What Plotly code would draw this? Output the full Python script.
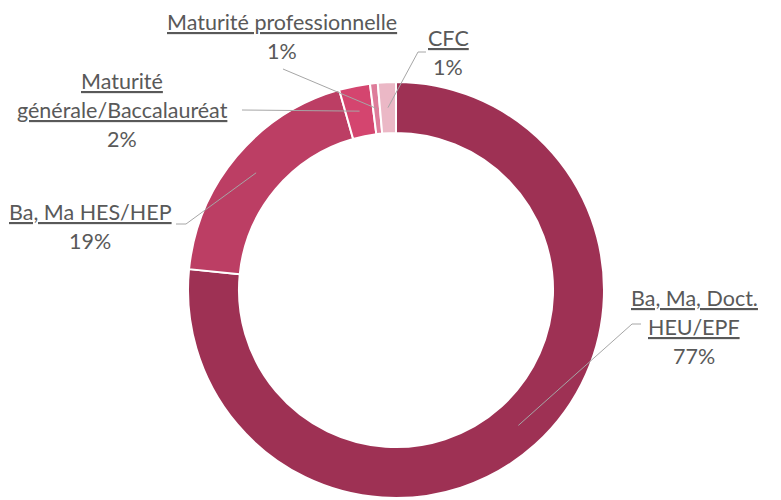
import math
import plotly.graph_objects as go

labels = ["Ba, Ma, Doct. HEU/EPF", "Ba, Ma HES/HEP", "Maturité générale/Baccalauréat",
          "Maturité professionnelle", "CFC"]
label_lines = [["Ba, Ma, Doct.", "HEU/EPF"], ["Ba, Ma HES/HEP"], ["Maturité", "générale/Baccalauréat"],
               ["Maturité professionnelle"], ["CFC"]]
values = [76.6, 19.0, 2.4, 0.6, 1.4]
colors = ["#9E3154", "#BC3E64", "#D4456F", "#DE7C9A", "#EBB8C6"]

W, H = 781, 500
OFF = 8  # page body margin
cx, cy, R, hole = 396, 290, 208, 0.755

def px(x, y):
    return (x - OFF) / W, 1 - (y - OFF) / H

x0, y1 = px(cx - R, cy - R)
x1, y0 = px(cx + R, cy + R)
fig = go.Figure(go.Pie(
    labels=labels, values=values, sort=False, direction="clockwise", rotation=0,
    hole=hole, textinfo="none", hoverinfo="label+percent", showlegend=False,
    marker=dict(colors=colors, line=dict(color="white", width=2)),
    domain=dict(x=[x0, x1], y=[y0, y1]),
))

# label text centre (first line) and the leader start point, in page pixels
label_pos = [(694, 298), (90, 212), (122, 81), (282, 22), (448, 38)]
leader_start = [[(641, 324), (632, 324)], [(176, 224), (186, 224)], [(242, 110)],
                [(283, 69)], [(426, 52), (418, 52)]]
LINE = 29

total = sum(values)
cum = 0
shapes = []
annotations = []
rmid = R * (1 + hole) / 2
for i, v in enumerate(values):
    mid = (cum + v / 2) / total * 2 * math.pi
    cum += v
    ex, ey = cx + rmid * math.sin(mid), cy - rmid * math.cos(mid)
    pts = leader_start[i] + [(ex, ey)]
    path = "M " + " L ".join("%.4f,%.4f" % px(x, y) for x, y in pts)
    shapes.append(dict(type="path", path=path, xref="paper", yref="paper",
                       line=dict(color="#A6A6A6", width=1)))
    pct = "%d%%" % round(v / total * 100)
    rows = ["<u>%s</u>" % s for s in label_lines[i]] + [pct]
    lx, ly = label_pos[i]
    for k, row in enumerate(rows):
        ax_, ay_ = px(lx, ly + k * LINE)
        annotations.append(dict(x=ax_, y=ay_, xref="paper", yref="paper",
                                text=row, showarrow=False, xanchor="center", yanchor="middle",
                                font=dict(size=21.5, color="#595959", family="Lato")))

fig.update_layout(width=W, height=H, margin=dict(l=0, r=0, t=0, b=0),
                  paper_bgcolor="white", plot_bgcolor="white",
                  shapes=shapes, annotations=annotations)
fig.write_html("out.html")
